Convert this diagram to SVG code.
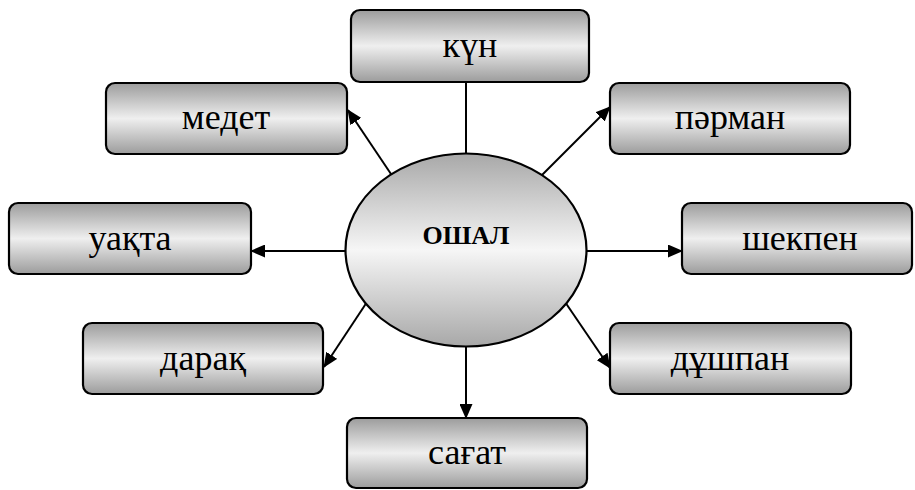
<svg xmlns="http://www.w3.org/2000/svg" width="915" height="490" viewBox="0 0 915 490">
  <defs>
    <linearGradient id="boxFill" x1="0" y1="0" x2="0" y2="1">
      <stop offset="0" stop-color="#9c9c9c"/>
      <stop offset="0.5" stop-color="#efefef"/>
      <stop offset="1" stop-color="#9c9c9c"/>
    </linearGradient>
    <linearGradient id="ovalFill" x1="0" y1="0" x2="0" y2="1">
      <stop offset="0" stop-color="#a8a8a8"/>
      <stop offset="0.5" stop-color="#f6f6f6"/>
      <stop offset="1" stop-color="#a8a8a8"/>
    </linearGradient>
    <marker id="arrow" markerUnits="userSpaceOnUse" markerWidth="15" markerHeight="13" refX="14" refY="6.5" orient="auto">
      <path d="M0,0 L15,6.5 L0,13 Z" fill="#000"/>
    </marker>
  </defs>
  <style>
    .box { fill: url(#boxFill); stroke: #000; stroke-width: 2.2; }
    .oval { fill: url(#ovalFill); stroke: #000; stroke-width: 2.2; }
    .label { font-family: "Liberation Serif", "Times New Roman", serif; font-size: 36px; fill: #000; text-anchor: middle; }
    .title { font-family: "Liberation Serif", "Times New Roman", serif; font-size: 26px; font-weight: bold; fill: #000; text-anchor: middle; }
    .link { stroke: #000; stroke-width: 2; fill: none; }
  </style>

  <!-- connectors -->
  <g id="connectors">
    <line class="link" x1="466" y1="82" x2="466" y2="155"/>
    <line class="link" x1="393" y1="177" x2="348" y2="110" marker-end="url(#arrow)"/>
    <line class="link" x1="539" y1="178" x2="610" y2="107" marker-end="url(#arrow)"/>
    <line class="link" x1="346" y1="251" x2="251" y2="251" marker-end="url(#arrow)"/>
    <line class="link" x1="587" y1="251" x2="682" y2="251" marker-end="url(#arrow)"/>
    <line class="link" x1="369" y1="299" x2="324" y2="367" marker-end="url(#arrow)"/>
    <line class="link" x1="563" y1="299" x2="610" y2="368" marker-end="url(#arrow)"/>
    <line class="link" x1="466" y1="347" x2="466" y2="418" marker-end="url(#arrow)"/>
  </g>

  <!-- central node -->
  <g id="node-oshal">
    <ellipse class="oval" cx="466" cy="250" rx="120.5" ry="96.5"/>
    <text class="title" x="466" y="244">ОШАЛ</text>
  </g>

  <g id="node-kun">
    <rect class="box" x="351" y="10" width="238" height="72" rx="9"/>
    <text class="label" x="470" y="57">күн</text>
  </g>

  <g id="node-medet">
    <rect class="box" x="106" y="83" width="241" height="71" rx="9"/>
    <text class="label" x="226" y="129">медет</text>
  </g>

  <g id="node-parman">
    <rect class="box" x="610" y="83" width="240" height="71" rx="9"/>
    <text class="label" x="730" y="129">пәрман</text>
  </g>

  <g id="node-uakta">
    <rect class="box" x="9" y="203" width="242" height="71" rx="9"/>
    <text class="label" x="130" y="250">уақта</text>
  </g>

  <g id="node-shekpen">
    <rect class="box" x="682" y="203" width="230" height="71" rx="9"/>
    <text class="label" x="800" y="250">шекпен</text>
  </g>

  <g id="node-darak">
    <rect class="box" x="83" y="323" width="240" height="71" rx="9"/>
    <text class="label" x="203" y="370">дарақ</text>
  </g>

  <g id="node-dushpan">
    <rect class="box" x="610" y="323" width="241" height="71" rx="9"/>
    <text class="label" x="730" y="370">дұшпан</text>
  </g>

  <g id="node-sagat">
    <rect class="box" x="347" y="418" width="240" height="70" rx="9"/>
    <text class="label" x="467" y="464">сағат</text>
  </g>
</svg>
